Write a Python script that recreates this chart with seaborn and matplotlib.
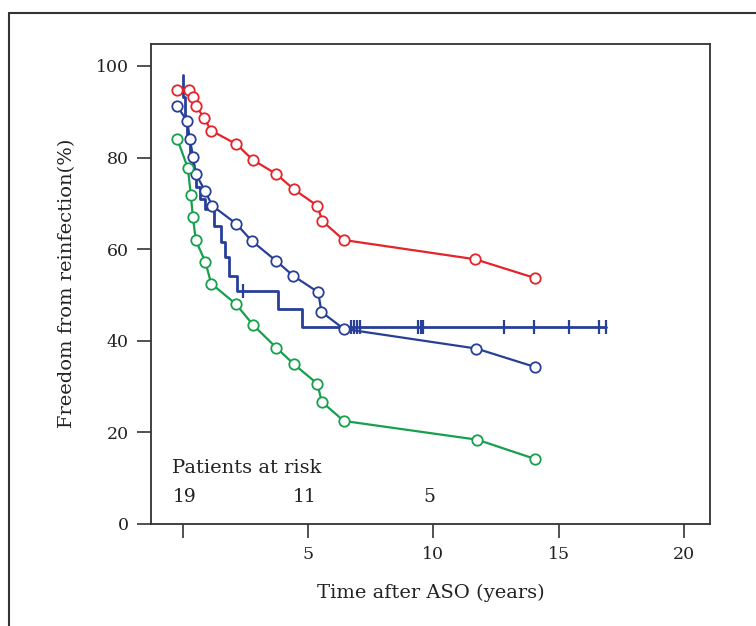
import numpy as np
import pandas as pd
import seaborn as sns
import matplotlib.pyplot as plt
from matplotlib.lines import Line2D

# actuarial estimate (red), observed (blue), lower bound (green)
red_t = [-0.23, 0.27, 0.43, 0.55, 0.86, 1.14, 2.15, 2.80, 3.74, 4.43, 5.37, 5.58, 6.43, 11.67, 14.06]
red_s = [94.8, 94.8, 93.3, 91.2, 88.6, 85.9, 82.9, 79.5, 76.4, 73.1, 69.5, 66.1, 62.0, 57.8, 53.7]

blue_t = [-0.23, 0.19, 0.29, 0.42, 0.53, 0.90, 1.18, 2.13, 2.76, 3.72, 4.41, 5.41, 5.54, 6.43, 11.72, 14.05]
blue_s = [91.3, 87.9, 84.0, 80.2, 76.4, 72.7, 69.5, 65.6, 61.8, 57.5, 54.2, 50.6, 46.3, 42.6, 38.3, 34.3]

green_t = [-0.21, 0.21, 0.33, 0.41, 0.53, 0.91, 1.14, 2.13, 2.82, 3.74, 4.44, 5.38, 5.55, 6.43, 11.76, 14.06]
green_s = [84.0, 77.7, 71.8, 67.0, 61.9, 57.2, 52.5, 48.0, 43.4, 38.5, 34.9, 30.6, 26.7, 22.5, 18.4, 14.2]

# Kaplan-Meier step curve
km_t = [0.0, 0.0, 0.09, 0.18, 0.29, 0.40, 0.52, 0.70, 0.90, 1.26, 1.52, 1.71, 1.84, 2.19, 3.82, 4.75, 16.88]
km_s = [98.0, 93.3, 87.3, 84.2, 80.5, 77.0, 73.5, 71.0, 68.7, 65.0, 61.6, 58.3, 54.1, 50.8, 46.9, 42.9, 42.9]

censor_t = [2.41, 6.72, 6.84, 6.95, 7.08, 9.41, 9.50, 9.60, 12.82, 14.02, 15.43, 16.63, 16.88]
censor_s = [50.8, 42.9, 42.9, 42.9, 42.9, 42.9, 42.9, 42.9, 42.9, 42.9, 42.9, 42.9, 42.9]

risk_t = [0.08, 4.85, 9.85]
risk_n = ['19', '11', '5']

red = '#e5232a'
blue = '#273f98'
green = '#16a04c'

sns.set_style('white')
plt.rcParams['font.family'] = ['DejaVu Serif']

fig = plt.figure(figsize=(7.56, 6.26), dpi=100)
ax = fig.add_axes([151/756, 102/626, 559/756, 480.5/626])

sns.lineplot(x=km_t, y=km_s, ax=ax, color=blue, lw=2.0, drawstyle='steps-post',
             estimator=None, sort=False, zorder=2)
ax.plot(censor_t, censor_s, ls='none', marker='|', ms=10, mew=1.6, color=blue, zorder=2)

for t, s, c in [(red_t, red_s, red), (blue_t, blue_s, blue), (green_t, green_s, green)]:
    sns.lineplot(x=t, y=s, ax=ax, color=c, lw=1.6, marker='o', markersize=7.5,
                 markerfacecolor='white', markeredgecolor=c, markeredgewidth=1.3,
                 estimator=None, sort=False, zorder=3)

ax.text(-0.42, 12.2, 'Patients at risk', fontsize=14, va='center', ha='left', color='#222')
for t, n in zip(risk_t, risk_n):
    ax.text(t, 5.8, n, fontsize=13.5, va='center', ha='center', color='#222')

ax.set_xlim(-1.26, 21.04)
ax.set_ylim(0, 104.9)
ax.set_xticks([0, 5, 10, 15, 20])
ax.set_xticklabels(['', '5', '10', '15', '20'])
ax.set_yticks([0, 20, 40, 60, 80, 100])
ax.tick_params(direction='out', length=10, width=1.2, color='#333', labelsize=12.5,
               labelcolor='#222', pad=6, left=True, bottom=True)
ax.set_xlabel('Time after ASO (years)', fontsize=14, labelpad=15, color='#222')
ax.set_ylabel('Freedom from reinfection(%)', fontsize=14, labelpad=14, color='#222')
for sp in ax.spines.values():
    sp.set_color('#333')
    sp.set_linewidth(1.3)

# outer frame (top and left edges)
fig.add_artist(Line2D([9/756, 1.0], [1 - 13/626, 1 - 13/626], color='#333', lw=1.5))
fig.add_artist(Line2D([9/756, 9/756], [0.0, 1 - 13/626], color='#333', lw=1.5))

fig.savefig('out.png', dpi=100)
